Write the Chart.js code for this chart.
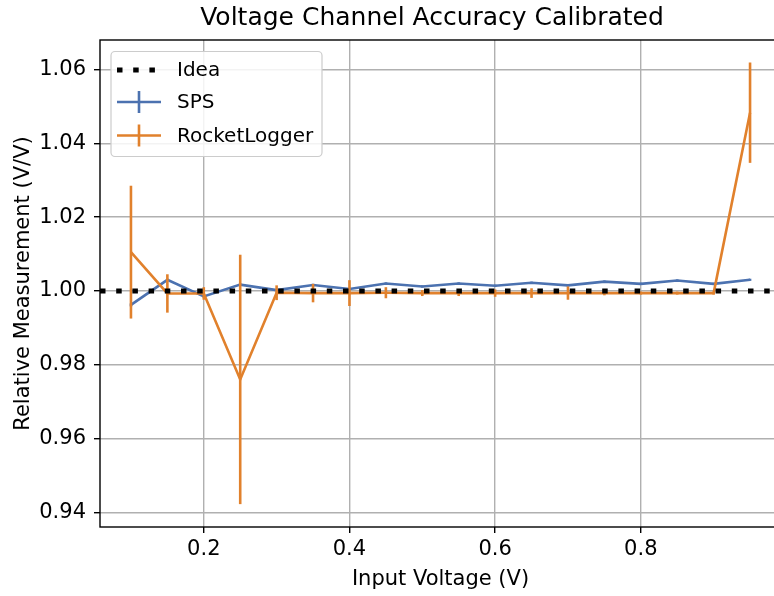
<!DOCTYPE html>
<html>
<head>
<meta charset="utf-8">
<script src="https://cdn.jsdelivr.net/npm/chart.js@4"></script>
<style>
  html, body { margin: 0; padding: 0; overflow: hidden; background: #fff; }
</style>
</head>
<body>
<canvas id="chart" width="781" height="596"></canvas>
<script>
// DATA
const inputVoltage = [0.10, 0.15, 0.20, 0.25, 0.30, 0.35, 0.40, 0.45, 0.50,
  0.55, 0.60, 0.65, 0.70, 0.75, 0.80, 0.85, 0.90, 0.95];
const spsValues = [0.9962, 1.0030, 0.9985, 1.0017, 1.0002, 1.0016, 1.0005, 1.0020, 1.0012,
  1.0020, 1.0014, 1.0022, 1.0015, 1.0025, 1.0019, 1.0028, 1.0019, 1.0030];
const spsErrors = [0.0004, 0.0003, 0.0003, 0.0003, 0.0003, 0.0003, 0.0003, 0.0003, 0.0003,
  0.0003, 0.0003, 0.0003, 0.0003, 0.0003, 0.0003, 0.0003, 0.0003, 0.0003];
const rocketValues = [1.0105, 0.9993, 0.9993, 0.9760, 0.9995, 0.9994, 0.9994, 0.9995, 0.9994,
  0.9994, 0.9994, 0.9994, 0.9994, 0.9994, 0.9994, 0.9994, 0.9994, 1.0483];
const rocketErrors = [0.0180, 0.0052, 0.0017, 0.0338, 0.0020, 0.0025, 0.0035, 0.0015, 0.0008,
  0.0008, 0.0010, 0.0013, 0.0018, 0.0006, 0.0004, 0.0004, 0.0004, 0.0136];
const ideaLevel = 1.0;
const xRange = [0.0575, 0.9925];
const yRange = [0.936, 1.068];
const xTicks = [0.2, 0.4, 0.6, 0.8];
const yTicks = [0.94, 0.96, 0.98, 1.00, 1.02, 1.04, 1.06];

const BLUE = '#4c72b0';
const ORANGE = '#e1812c';
const IDEA_DASH = [5.5, 10.7];
const TITLE = 'Voltage Channel Accuracy Calibrated';

Chart.defaults.font.family = "'DejaVu Sans', sans-serif";
Chart.defaults.color = '#000';

const toPoints = (ys) => inputVoltage.map((x, i) => ({ x, y: ys[i] }));

// error bars drawn right after their own line
const errorBars = {
  id: 'errorBars',
  afterDatasetDraw(chart, args) {
    const ds = chart.data.datasets[args.index];
    if (!ds.errors) return;
    const { ctx, chartArea: a, scales: { x, y } } = chart;
    ctx.save();
    ctx.beginPath();
    ctx.rect(a.left, a.top, a.right - a.left, a.bottom - a.top);
    ctx.clip();
    ctx.strokeStyle = ds.borderColor;
    ctx.lineWidth = ds.borderWidth;
    ds.data.forEach((p, i) => {
      const px = x.getPixelForValue(p.x);
      ctx.beginPath();
      ctx.moveTo(px, y.getPixelForValue(p.y - ds.errors[i]));
      ctx.lineTo(px, y.getPixelForValue(p.y + ds.errors[i]));
      ctx.stroke();
    });
    ctx.restore();
  }
};

// title, axes frame + matplotlib style legend
const frameAndLegend = {
  id: 'frameAndLegend',
  afterDraw(chart) {
    const { ctx, chartArea: a } = chart;
    ctx.save();
    ctx.fillStyle = '#000';
    ctx.textAlign = 'center';
    ctx.textBaseline = 'middle';
    ctx.font = "25px 'DejaVu Sans'";
    ctx.fillText(TITLE, 432, 18);

    ctx.strokeStyle = '#000';
    ctx.lineWidth = 1.4;
    ctx.strokeRect(a.left, a.top, a.right - a.left, a.bottom - a.top);

    // legend box
    ctx.beginPath();
    ctx.roundRect(111, 51.5, 211, 105, 4);
    ctx.fillStyle = 'rgba(255,255,255,0.85)';
    ctx.fill();
    ctx.strokeStyle = '#cccccc';
    ctx.lineWidth = 1.2;
    ctx.stroke();

    const rows = [70, 102, 135.5];
    ctx.font = "20px 'DejaVu Sans'";
    ctx.textAlign = 'left';
    ctx.fillStyle = '#000';
    chart.data.datasets.forEach((ds, i) => {
      const cy = rows[i];
      ctx.strokeStyle = ds.borderColor;
      ctx.lineWidth = ds.borderWidth;
      ctx.setLineDash(ds.borderDash || []);
      ctx.beginPath();
      ctx.moveTo(117, cy);
      ctx.lineTo(161, cy);
      ctx.stroke();
      ctx.setLineDash([]);
      if (ds.errors) {
        ctx.beginPath();
        ctx.moveTo(139, cy - 11);
        ctx.lineTo(139, cy + 11);
        ctx.stroke();
      }
      ctx.fillText(ds.label, 177, cy + 1);
    });
    ctx.restore();
  }
};

const ctx = document.querySelector('#chart');

const myChart = new Chart(ctx, {
  type: 'line',
  data: {
    datasets: [
      {
        label: 'Idea',
        data: [{ x: xRange[0], y: ideaLevel }, { x: xRange[1], y: ideaLevel }],
        borderColor: '#000',
        borderWidth: 5,
        borderDash: IDEA_DASH,
        pointRadius: 0,
        clip: 0,
      },
      {
        label: 'SPS',
        data: toPoints(spsValues),
        errors: spsErrors,
        borderColor: BLUE,
        borderWidth: 2.6,
        pointRadius: 0,
        order: 2,
      },
      {
        label: 'RocketLogger',
        data: toPoints(rocketValues),
        errors: rocketErrors,
        borderColor: ORANGE,
        borderWidth: 2.6,
        pointRadius: 0,
        order: 1,
      },
    ],
  },
  options: {
    responsive: false,
    animation: false,
    layout: { padding: { top: 40 } },
    plugins: {
      legend: { display: false },
      tooltip: { enabled: false },
      title: { display: false },
    },
    scales: {
      x: {
        type: 'linear',
        min: xRange[0],
        max: xRange[1],
        afterFit: (s) => { s.height = 69; },
        afterBuildTicks: (s) => { s.ticks = xTicks.map(value => ({ value })); },
        ticks: {
          font: { size: 21 },
          padding: 4,
          maxRotation: 0,
          callback: (v) => v.toFixed(1),
        },
        grid: { color: '#b0b0b0', lineWidth: 1.4, tickLength: 6, tickColor: '#000', tickWidth: 1.4 },
        border: { display: false },
        title: {
          display: true,
          text: 'Input Voltage (V)',
          font: { size: 21 },
          padding: { top: 0, bottom: 3.4 },
        },
      },
      y: {
        type: 'linear',
        min: yRange[0],
        max: yRange[1],
        afterFit: (s) => { s.width = 100; },
        afterBuildTicks: (s) => { s.ticks = yTicks.map(value => ({ value })); },
        ticks: {
          font: { size: 21 },
          padding: 8,
          callback: (v) => v.toFixed(2),
        },
        grid: { color: '#b0b0b0', lineWidth: 1.4, tickLength: 6, tickColor: '#000', tickWidth: 1.4 },
        border: { display: false },
        title: {
          display: true,
          text: 'Relative Measurement (V/V)',
          font: { size: 21 },
          padding: { top: 11.4, bottom: 0 },
        },
      },
    },
  },
  plugins: [errorBars, frameAndLegend],
});
</script>
</body>
</html>
